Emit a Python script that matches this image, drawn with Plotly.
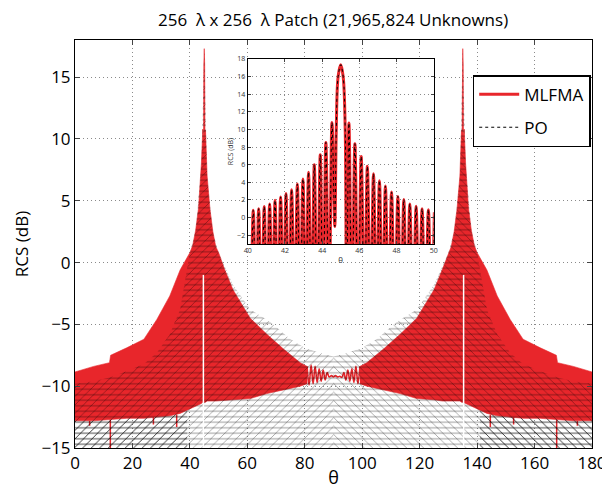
import plotly.graph_objects as go

RED = "#e8262b"
FONT = "Open Sans"

# ---------------- main plot ----------------
# Left beam (θ < 90). The MLFMA lobes are so dense they render as a solid band.
th_L = [0, 6.5, 12.0, 12.4, 18, 24, 28.5, 33, 36.6, 40, 41, 42, 43, 44, 44.5,
        44.75, 44.85, 45.0, 45.15, 45.25, 45.44, 46, 47, 48, 49, 50, 52, 55, 58,
        61, 66.8, 72.6, 78.4, 80.8]
mlfma_up_L = [-8.85, -8.4, -8.1, -7.5, -6.9, -6.2, -4.6, -2.7, -0.6, 0.8, 1.4, 2.6,
              4.4, 8.0, 10.8, 10.0, 16.0, 17.3, 16.0, 10.0, 10.7, 7.0, 4.3, 2.5,
              1.3, 0.8, -0.5, -2.2, -3.4, -4.5, -5.8, -7.0, -8.1, -8.4]
mlfma_lo_L = [-12.8, -12.8, -12.7, -12.7, -12.6, -12.6, -12.5, -12.4, -12.2, -11.8,
              -11.7, -11.6, -11.5, -11.4, -11.3, -11.3, -11.3, -11.3, -11.3, -11.3,
              -11.3, -11.2, -11.2, -11.2, -11.2, -11.2, -11.2, -11.1, -11.05, -11.0,
              -10.6, -10.3, -10.0, -9.8]
# PO: dense dotted lobes, upper edge of the dotted texture
th_PO_L = [0, 6.5, 12, 18, 24, 28.5, 33, 36.6, 40, 42, 44, 45, 46, 48, 50, 55,
           61, 68, 75, 80, 85, 90]
po_up_L = [-9.8, -9.6, -9.3, -8.8, -8.2, -7.3, -5.8, -3.8, 0.8, 2.6, 8.0, 17.3,
           7.0, 2.5, 0.8, -1.8, -3.8, -4.8, -6.2, -6.9, -7.3, -7.6]
# PO outer region (below the MLFMA band) where its dots form a dark hatch
th_POo_L = [0, 6.5, 12, 18, 24, 28.5, 33, 36.6, 39]
po_oup_L = [-12.8, -12.8, -12.7, -12.6, -12.6, -12.5, -12.4, -12.2, -12.0]

# Right beam (θ > 90)
th_R = [99.2, 101.6, 107.4, 113.2, 119, 122, 125, 128, 130, 131, 132, 133, 134,
        134.56, 134.75, 134.85, 135.0, 135.15, 135.25, 135.5, 136, 137, 138, 139,
        140, 143.4, 147, 151.5, 156, 162, 167.6, 168, 173.5, 180]
mlfma_up_R = [-8.4, -8.1, -7.0, -5.8, -4.5, -3.4, -2.2, -0.5, 0.8, 1.3, 2.5, 4.3,
              7.0, 10.7, 10.0, 16.0, 17.3, 16.0, 10.0, 10.8, 8.0, 4.4, 2.6, 1.4,
              0.8, -0.6, -2.7, -4.6, -6.2, -6.9, -7.5, -8.1, -8.4, -8.85]
mlfma_lo_R = [-9.8, -10.0, -10.3, -10.6, -11.0, -11.05, -11.1, -11.2, -11.2, -11.2,
              -11.2, -11.2, -11.2, -11.3, -11.3, -11.3, -11.3, -11.3, -11.3, -11.3,
              -11.4, -11.5, -11.6, -11.7, -11.8, -12.2, -12.4, -12.5, -12.6, -12.6,
              -12.7, -12.7, -12.8, -12.8]
th_PO_R = [90, 95, 100, 105, 112, 119, 125, 130, 132, 134, 135, 136, 138, 140,
           143.4, 147, 151.5, 156, 162, 168, 173.5, 180]
po_up_R = [-7.6, -7.3, -6.9, -6.2, -4.8, -3.8, -1.8, 0.8, 2.5, 7.0, 17.3, 8.0,
           2.6, 0.8, -3.8, -5.8, -7.3, -8.2, -8.8, -9.3, -9.6, -9.8]
th_POo_R = [141, 143.4, 147, 151.5, 156, 162, 168, 173.5, 180]
po_oup_R = [-12.0, -12.2, -12.4, -12.5, -12.6, -12.6, -12.7, -12.8, -12.8]

# Centre region: MLFMA collapses to a single rippling line
th_C = [80.8, 81.5, 82.2, 82.9, 83.6, 84.3, 85.0, 85.7, 86.4, 87.1, 87.8, 88.5,
        89.3, 90.0, 90.7, 91.5, 92.2, 92.9, 93.6, 94.3, 95.0, 95.7, 96.4, 97.1,
        97.8, 98.5, 99.2]
mlfma_C = [-8.4, -9.9, -8.3, -9.8, -8.4, -9.7, -8.6, -9.6, -8.7, -9.5, -8.9, -9.25,
           -9.15, -9.25, -9.15, -9.25, -9.2, -9.3, -8.9, -9.5, -8.7, -9.6, -8.6,
           -9.7, -8.4, -9.8, -8.4]

# Isolated deep MLFMA nulls below the band
spike_th = [5.1, 12.3, 27.3, 35.4, 144.6, 152.7, 167.7, 174.9]
spike_top = [-12.8, -12.7, -12.5, -12.3, -12.3, -12.5, -12.7, -12.8]
spike_bot = [-13.2, -16.0, -13.1, -13.3, -13.3, -13.1, -16.0, -13.2]

# Specular-side nulls (both solvers): nothing drawn below this level
null_th = [44.7, 135.3]
null_db = [-1.0, -1.0]

# ---------------- inset 40°..50° (peaks and nulls) ----------------
inset_th = [39.85, 40.13, 40.30, 40.45, 40.59, 40.74, 40.89, 41.03, 41.18, 41.33,
            41.47, 41.62, 41.77, 41.92, 42.06, 42.21, 42.36, 42.52, 42.67, 42.82,
            42.97, 43.12, 43.27, 43.43, 43.58, 43.74, 43.90, 44.05, 44.20, 44.37,
            44.53, 44.68, 44.76, 44.86, 45.00, 45.13, 45.24, 45.31, 45.44, 45.60,
            45.76, 45.93, 46.10, 46.27, 46.43, 46.60, 46.76, 46.92, 47.08, 47.24,
            47.40, 47.57, 47.73, 47.90, 48.07, 48.23, 48.39, 48.55, 48.71, 48.88,
            49.05, 49.21, 49.37, 49.54, 49.71, 49.87, 50.03]
inset_db = [0.6, -12, 0.83, -12, 1.0, -12, 1.25, -12, 1.55, -12,
            1.96, -12, 2.34, -12, 2.72, -12, 3.17, -12, 3.81, -12,
            4.38, -12, 5.13, -12, 6.0, -12, 7.13, -12, 8.53, -12,
            10.79, -1.0, 10.0, 16.0, 17.35, 16.0, 10.0, -12, 10.72, -12,
            8.38, -12, 6.94, -12, 5.81, -12, 4.98, -12, 4.19, -12,
            3.58, -12, 2.9, -12, 2.4, -12, 2.04, -12, 1.55, -12,
            1.28, -12, 1.0, -12, 0.9, -12, 0.6]

Y_MIN, Y_MAX = -15, 18
FLOOR = Y_MIN - 1.0


def band(th, top, bottom):
    return th + th[::-1], top + bottom[::-1]


def hatch(x, y, shape, size, solidity, opacity):
    return go.Scatter(x=x, y=y, fill="toself", fillcolor="black", mode="none",
                      fillpattern=dict(shape=shape, size=size, solidity=solidity,
                                       fgcolor="black", fgopacity=opacity,
                                       bgcolor="rgba(0,0,0,0)"),
                      showlegend=False, hoverinfo="skip")


fig = go.Figure()

# MLFMA solid bands
for th, up, lo in [(th_L, mlfma_up_L, mlfma_lo_L), (th_R, mlfma_up_R, mlfma_lo_R)]:
    x, y = band(th, up, lo)
    fig.add_trace(go.Scatter(x=x, y=y, fill="toself", fillcolor=RED, mode="lines",
                             line=dict(color=RED, width=0.6), showlegend=False,
                             hoverinfo="skip"))

# MLFMA centre ripple
fig.add_trace(go.Scatter(x=th_C, y=mlfma_C, mode="lines", line=dict(color=RED, width=1.6,
                         shape="spline"), showlegend=False, hoverinfo="skip"))

# MLFMA deep nulls
sx, sy = [], []
for t, a, b in zip(spike_th, spike_top, spike_bot):
    sx += [t, t, None]
    sy += [a, b, None]
fig.add_trace(go.Scatter(x=sx, y=sy, mode="lines", line=dict(color=RED, width=1.5),
                         showlegend=False, hoverinfo="skip"))

# PO dotted texture (hatched fills)
for th, up, shp in [(th_PO_L, po_up_L, "/"), (th_PO_R, po_up_R, "\\")]:
    x, y = band(th, up, [FLOOR] * len(th))
    fig.add_trace(hatch(x, y, shp, 6, 0.15, 0.35))
    fig.add_trace(hatch(x, y, "-", 5.5, 0.14, 0.5))
# darker hatch where PO lies below the MLFMA band on the outer sides
for th, up, shp in [(th_POo_L, po_oup_L, "/"), (th_POo_R, po_oup_R, "\\")]:
    x, y = band(th, up, [FLOOR] * len(th))
    fig.add_trace(hatch(x, y, shp, 6, 0.15, 0.6))
    fig.add_trace(hatch(x, y, "-", 5.5, 0.14, 0.5))

# nulls: white gaps
nx, ny = [], []
for t, d in zip(null_th, null_db):
    nx += [t, t, None]
    ny += [d, FLOOR, None]
fig.add_trace(go.Scatter(x=nx, y=ny, mode="lines", line=dict(color="white", width=1.5),
                         showlegend=False, hoverinfo="skip"))

# ---------------- inset ----------------
fig.add_trace(go.Scatter(x=inset_th, y=inset_db, mode="lines", name="MLFMA",
                         line=dict(color=RED, width=3, shape="spline", smoothing=1.0),
                         xaxis="x2", yaxis="y2", legendgroup="a"))
fig.add_trace(go.Scatter(x=inset_th, y=inset_db, mode="lines", name="PO",
                         line=dict(color="black", width=1, dash="dot", shape="spline",
                                   smoothing=1.0),
                         xaxis="x2", yaxis="y2", legendgroup="b"))

axis_common = dict(showline=True, linecolor="black", linewidth=1, mirror="ticks",
                   ticks="inside", showgrid=True, gridcolor="#8a8a8a",
                   griddash="1px,3px", gridwidth=1, zeroline=False, automargin=False)

# the page adds an 8 px body margin, so the figure is sized 8 px smaller
fig.update_layout(
    width=602, height=481,
    margin=dict(l=67, r=18, t=32, b=40.5),
    paper_bgcolor="white", plot_bgcolor="white",
    font=dict(family=FONT, color="black", size=16),
    title=dict(text="256\u00a0 λ x 256\u00a0 λ Patch (21,965,824 Unknowns)",
               x=0.54, xanchor="center", y=0.975, yanchor="middle",
               font=dict(size=17)),
    xaxis=dict(range=[0, 180], tickmode="linear", tick0=0, dtick=20, ticklen=5,
               title=dict(text="θ", font=dict(size=18), standoff=0),
               tickfont=dict(size=17), **axis_common),
    yaxis=dict(range=[Y_MIN, Y_MAX], tickmode="array",
               tickvals=[-15, -10, -5, 0, 5, 10, 15], ticklen=5,
               title=dict(text="RCS (dB)", font=dict(size=17), standoff=8),
               tickfont=dict(size=17), **axis_common),
    xaxis2=dict(domain=[0.334, 0.694], anchor="y2", range=[40, 50], tickmode="linear",
                tick0=40, dtick=2, ticklen=3, tickfont=dict(size=7, color="#333"),
                title=dict(text="θ", font=dict(size=8, color="#333"), standoff=2),
                **axis_common),
    yaxis2=dict(domain=[0.5, 0.9535], anchor="x2", range=[-3, 18], tickmode="linear",
                tick0=-2, dtick=2, ticklen=3, tickfont=dict(size=7, color="#333"),
                title=dict(text="RCS (dB)", font=dict(size=7, color="#333"), standoff=2),
                **axis_common),
    legend=dict(x=0.9975, xanchor="right", y=0.914, yanchor="top",
                bgcolor="white", bordercolor="black", borderwidth=1.5,
                font=dict(size=17), tracegroupgap=8, entrywidth=100,
                itemwidth=40),
    showlegend=True,
)

fig.write_html("out.html")
